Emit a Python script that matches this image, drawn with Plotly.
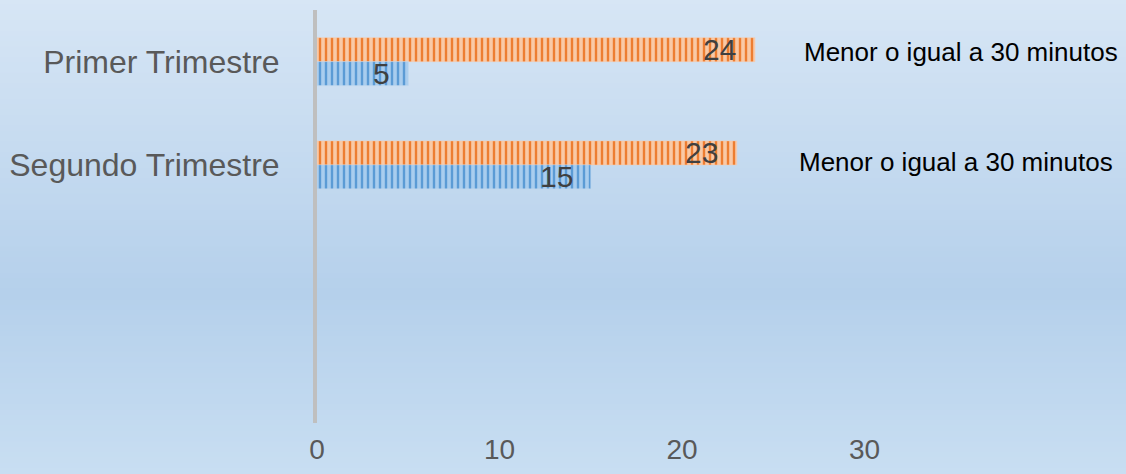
import plotly.graph_objects as go

categories = ["Primer Trimestre", "Segundo Trimestre"]
orange_vals = [24, 23]
blue_vals = [5, 15]
right_labels = ["Menor o igual a 30 minutos", "Menor o igual a 30 minutos"]
x_ticks = [0, 10, 20, 30]

W, H = 1126, 474
L, R, T, B = 317, 6, 10, 51
pw, ph = W - L - R, H - T - B

def px2paper_x(p):
    return (p - L) / pw

def px2paper_y(p):
    return (H - B - p) / ph

ypos = list(range(len(categories)))
bw = 0.232

fig = go.Figure()
fig.add_trace(go.Bar(
    y=ypos, x=orange_vals, orientation="h", width=bw, offset=-bw,
    marker=dict(color="#F4B183", line=dict(width=0.5, color="#F8CBAD"),
                pattern=dict(shape="|", size=6, solidity=0.4,
                             fgcolor="#ED7D31", bgcolor="#F9C9A6", fillmode="replace")),
    showlegend=False, hoverinfo="skip"))
fig.add_trace(go.Bar(
    y=ypos, x=blue_vals, orientation="h", width=bw, offset=0,
    marker=dict(color="#9DC3E6", line=dict(width=0.5, color="#BDD7EE"),
                pattern=dict(shape="|", size=6, solidity=0.4,
                             fgcolor="#5B9BD5", bgcolor="#A9CDEE", fillmode="replace")),
    showlegend=False, hoverinfo="skip"))

annotations = []
for i, (o, b) in enumerate(zip(orange_vals, blue_vals)):
    annotations.append(dict(x=o, y=i - bw / 2, xref="x", yref="y", text=str(o),
                            showarrow=False, xanchor="right", xshift=-17,
                            font=dict(size=30, color="#404040", family="Liberation Sans, Arial")))
    annotations.append(dict(x=b, y=i + bw / 2, xref="x", yref="y", text=str(b),
                            showarrow=False, xanchor="right", xshift=-16,
                            font=dict(size=30, color="#404040", family="Liberation Sans, Arial")))

right_pos = [(961, 52), (956, 162)]
for txt, (cx, cy) in zip(right_labels, right_pos):
    annotations.append(dict(x=px2paper_x(cx), y=px2paper_y(cy), xref="paper", yref="paper",
                            text=txt, showarrow=False, xanchor="center", yanchor="middle",
                            font=dict(size=26, color="#000000", family="Liberation Sans, Arial")))

# background gradient strips
def lerp(c1, c2, t):
    return tuple(round(a + (b - a) * t) for a, b in zip(c1, c2))

stops = [(0.0, (215, 230, 245)), (0.62, (181, 208, 235)), (1.0, (200, 222, 242))]
shapes = []
N = 90
for k in range(N):
    y0p = H * k / N
    y1p = H * (k + 1) / N + 1
    t = (k + 0.5) / N
    for j in range(len(stops) - 1):
        if stops[j][0] <= t <= stops[j + 1][0]:
            tt = (t - stops[j][0]) / (stops[j + 1][0] - stops[j][0])
            c = lerp(stops[j][1], stops[j + 1][1], tt)
            break
    shapes.append(dict(type="rect", xref="paper", yref="paper", layer="below",
                       x0=px2paper_x(-2), x1=px2paper_x(W + 2),
                       y0=px2paper_y(min(y1p, H + 2)), y1=px2paper_y(max(y0p - 1, -2)),
                       fillcolor="rgb(%d,%d,%d)" % c, line=dict(width=0)))

fig.update_layout(
    width=W, height=H,
    margin=dict(l=L, r=R, t=T, b=B, pad=0),
    paper_bgcolor="rgb(200,222,242)", plot_bgcolor="rgba(0,0,0,0)",
    barmode="overlay",
    font=dict(family="Liberation Sans, Arial", color="#595959"),
    xaxis=dict(range=[0, pw / 18.25], tickvals=x_ticks, showgrid=False, zeroline=False,
               showline=False, ticks="", tickfont=dict(size=28, color="#595959"),
               ticklabelstandoff=7, fixedrange=True),
    yaxis=dict(range=[3.5, -0.5], tickvals=ypos, ticktext=categories, showgrid=False,
               zeroline=False, showline=True, linecolor="#BFBFBF", linewidth=4,
               ticks="", tickfont=dict(size=32, color="#595959"),
               ticklabelstandoff=27, fixedrange=True),
    annotations=annotations,
    shapes=shapes,
)

fig.write_html("out.html", config={"displayModeBar": False},
               post_script="document.body.style.margin='0';document.body.style.overflow='hidden';")
